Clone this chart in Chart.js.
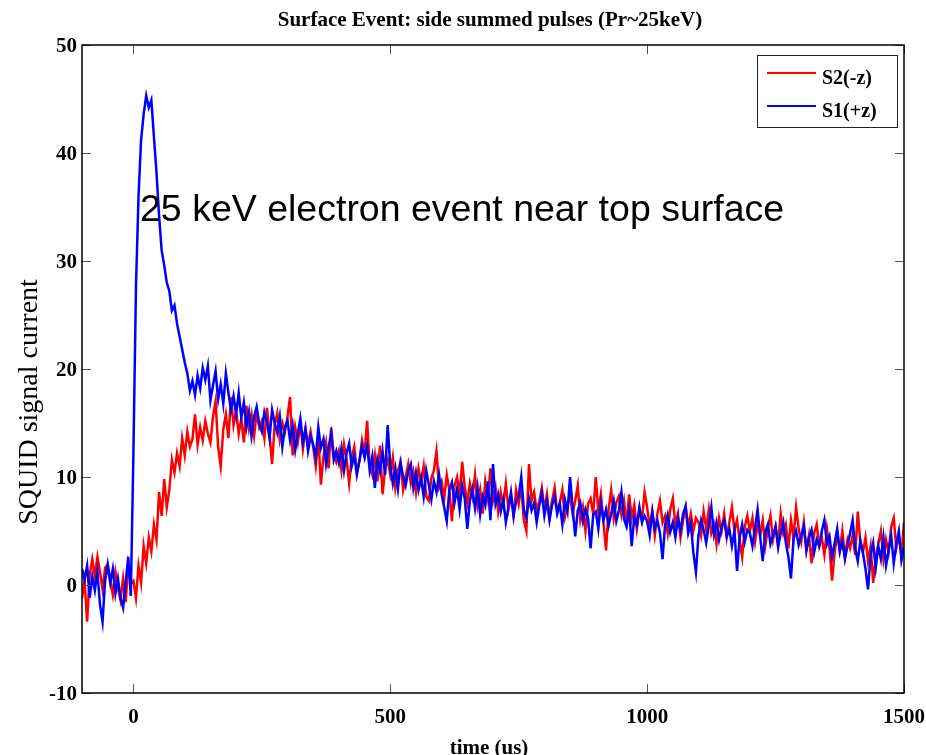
<!DOCTYPE html>
<html>
<head>
<meta charset="utf-8">
<title>Surface Event: side summed pulses</title>
<script src="https://cdn.jsdelivr.net/npm/chart.js@4/dist/chart.umd.min.js"></script>
<style>
  html, body { margin: 0; padding: 0; background: #fff; }
  #wrap { width: 926px; height: 755px; }
</style>
</head>
<body>
<div id="wrap"><canvas id="c" width="926" height="755"></canvas></div>
<script>
// Sampling grid of the pulse records (us)
const T0 = -100;
const DT = 5;

// S1(+z) side summed pulse, one sample every 5 us from -100 us
const s1 = [
  1.5, 0.5, 1.8, -1.2, 0.8, -0.5, 1.2, -1.8, -3.4, 0.4,
  1.9, 0.2, 1.5, -0.8, 0.6, -1.2, -2.1, 0.3, 2.6, -1.0,
  12.0, 27.5, 36.0, 41.2, 43.6, 45.3, 44.2, 44.9, 41.5, 38.2,
  34.2, 31.0, 29.6, 28.0, 27.2, 25.4, 25.9, 24.2, 23.0, 21.8,
  20.6, 19.6, 18.0, 18.9, 17.6, 19.4, 18.2, 20.1, 19.0, 20.3,
  17.1, 18.5, 19.8, 17.2, 18.6, 16.8, 19.6, 17.8, 16.2, 17.5,
  15.8, 17.8, 15.5, 16.9, 14.6, 16.0, 13.8, 15.6, 16.5, 14.9,
  14.2, 16.0, 15.1, 13.6, 16.2, 15.0, 14.1, 15.6, 12.8, 14.6,
  15.2, 13.4, 14.8, 12.5, 14.0, 15.4, 13.2, 14.5, 12.4, 13.8,
  13.0, 11.8, 14.6, 12.7, 13.5, 11.2, 12.8, 14.0, 11.6, 12.4,
  11.3, 12.7, 10.6, 12.2, 13.1, 11.0, 12.0, 10.2, 11.5, 12.9,
  11.8, 12.9, 10.6, 11.9, 9.0, 11.6, 10.5, 12.4, 10.2, 14.8,
  11.0, 9.4, 10.8, 8.9, 11.3, 10.1, 9.2, 10.6, 11.2, 9.0,
  10.4, 8.8, 9.9, 8.2, 10.6, 9.3, 7.9, 9.6, 8.6, 10.2,
  8.4, 7.2, 5.9, 8.8, 9.5, 7.6, 8.9, 7.0, 9.2, 8.0,
  5.2, 7.8, 8.9, 7.1, 9.0, 6.5, 8.2, 7.4, 9.6, 6.0,
  11.2, 7.5, 8.4, 6.8, 7.9, 5.8, 7.2, 8.6, 6.4, 7.8,
  8.2, 10.0, 7.0, 6.2, 8.0, 6.9, 7.6, 5.8, 7.3, 8.5,
  6.4, 7.8, 6.0, 7.4, 8.2, 6.6, 7.5, 5.6, 7.9, 6.8,
  10.0, 7.2, 4.5, 6.9, 7.6, 5.9, 7.0, 6.2, 3.4, 6.5,
  6.8, 5.2, 7.6, 6.0, 7.0, 5.5, 6.6, 7.8, 5.9, 6.9,
  8.6, 6.1, 5.4, 7.0, 3.6, 6.3, 5.5, 7.2, 5.8, 6.4,
  5.9, 4.6, 6.8, 5.2, 6.0, 4.8, 2.4, 5.6, 6.5, 4.9,
  5.8, 4.4, 6.2, 5.0, 6.6, 7.3, 4.8, 5.7, 3.0, 1.2,
  4.6, 6.0, 5.1, 3.9, 5.5, 7.2, 4.7, 5.8, 4.2, 5.4,
  6.0, 4.5, 5.2, 3.6, 5.0, 1.3, 4.4, 5.6, 4.0, 5.1,
  4.8, 3.6, 5.3, 7.0, 4.5, 2.2, 4.9, 5.6, 3.8, 4.6,
  5.4, 3.5, 4.8, 5.8, 3.9, 2.6, 0.6, 4.3, 5.0, 3.7,
  4.6, 5.5, 3.2, 4.4, 5.1, 3.0, 4.2, 3.6, 5.0, 6.0,
  3.8, 4.5, 2.6, 3.9, 5.2, 3.1, 4.0, 2.4, 3.6, 4.8,
  6.0, 3.4, 2.2, 4.1, 3.0, 1.5, -0.4, 2.8, 3.9, 1.6,
  3.6, 2.4, 4.4, 1.8, 3.2, 4.6, 2.0, 3.8, 5.0, 2.3,
  3.5
];

// S2(-z) side summed pulse, same sampling
const s2 = [
  -1.2, 0.4, -3.4, 1.0, 2.4, 0.8, 2.6, 1.2, -0.4, 1.6,
  1.9, 0.5, -0.9, 1.2, -0.3, -1.4, 0.6, -1.6, 1.8, 0.2,
  0.4, -1.2, 1.8, 0.2, 3.6, 2.0, 4.4, 3.1, 5.6, 4.2,
  8.6, 6.4, 9.8, 7.2, 8.8, 11.6, 10.4, 12.2, 11.0, 13.6,
  12.0, 14.2, 12.8, 13.5, 15.8, 13.0, 14.6, 13.4, 15.2, 14.0,
  13.2, 15.6, 17.0, 12.8, 11.0, 14.4, 15.8, 13.6, 17.4, 14.8,
  16.2, 14.0, 15.4, 13.2, 16.6, 14.5, 15.8, 13.8, 16.0, 14.6,
  15.2, 13.6, 16.4, 14.0, 11.2, 14.8, 15.9, 13.5, 15.0, 14.2,
  15.6, 17.4, 12.0, 14.6, 13.2, 15.0, 12.6, 14.4, 13.0, 14.2,
  12.8, 11.0, 13.6, 9.3, 11.9, 13.2, 10.8, 14.6, 12.1, 11.4,
  12.4, 10.6, 13.0, 11.6, 9.4, 11.8, 12.8, 10.4, 11.5, 13.4,
  12.2, 15.2, 11.0, 10.2, 12.0, 9.6, 12.9, 8.4, 10.8, 11.6,
  10.2, 11.8, 9.0, 10.6, 11.4, 8.8, 10.0, 11.2, 9.4, 10.5,
  8.6, 10.8, 9.5, 11.0, 8.2, 7.8, 9.9, 10.6, 12.4, 9.0,
  9.6, 8.0, 10.2, 8.8, 5.9, 9.2, 10.0, 8.4, 11.4, 9.1,
  7.6, 9.4, 8.2, 10.2, 7.4, 8.8, 6.6, 9.6, 8.0, 10.8,
  7.8, 9.0, 6.8, 8.6, 7.4, 9.4, 7.0, 8.2, 6.4, 8.8,
  7.5, 9.2, 6.0, 5.0, 11.2, 7.8, 8.6, 6.9, 7.7, 9.0,
  7.0, 8.4, 6.2, 7.8, 9.0, 6.8, 7.6, 8.8, 6.3, 7.4,
  8.2, 6.6, 7.8, 9.2, 6.0, 7.2, 5.0, 7.5, 8.0, 6.6,
  10.0, 6.8, 8.4, 5.8, 3.2, 7.0, 8.8, 6.2, 7.6, 8.2,
  6.5, 7.8, 5.6, 8.4, 6.2, 7.4, 5.2, 7.0, 6.0, 8.6,
  7.2, 5.4, 6.8, 4.6, 6.6, 7.8, 5.8, 6.4, 4.8, 7.0,
  8.0, 5.6, 6.6, 4.4, 6.0, 7.2, 5.4, 6.6, 5.0, 6.2,
  5.8, 4.6, 6.8, 5.2, 7.0, 4.8, 5.6, 3.8, 6.2, 5.0,
  6.6, 4.4, 5.8, 7.2, 5.0, 6.0, 4.2, 2.6, 5.4, 6.4,
  5.0, 6.2, 4.0, 5.6, 4.6, 6.0, 3.6, 5.2, 6.4, 4.2,
  5.4, 3.8, 6.6, 4.8, 5.6, 3.4, 6.0, 4.4, 7.2, 5.2,
  4.0, 5.8, 3.2, 4.6, 2.0, 4.8, 5.6, 3.6, 4.4, 2.8,
  5.2, 3.4, 0.4, 3.0, 4.8, 3.2, 5.0, 2.6, 4.2, 3.4,
  4.6, 2.8, 6.8, 4.0, 3.0, 4.4, 2.2, 3.6, 0.2, 2.6,
  3.8, 5.0, 2.4, 4.2, 3.0, 5.4, 6.2, 3.4, 4.6, 2.8,
  5.8
];

const xTicks = [0, 500, 1000, 1500];
const yTicks = [-10, 0, 10, 20, 30, 40, 50];

const titleText = 'Surface Event: side summed pulses (Pr~25keV)';
const xTitle = 'time (us)';
const yTitle = 'SQUID signal current';
const noteText = '25 keV electron event near top surface';

const toPoints = arr => arr.map((v, i) => ({ x: T0 + i * DT, y: v }));

const SERIF = '"Liberation Serif", "Times New Roman", serif';
const SANS = '"Liberation Sans", Arial, sans-serif';

// Box frame, inward ticks, titles, note and legend
const decor = {
  id: 'decor',
  afterDatasetsDraw(chart) {
    const ctx = chart.ctx;
    const { left, right, top, bottom } = chart.chartArea;
    const xs = chart.scales.x, ys = chart.scales.y;
    ctx.save();

    // inward ticks
    ctx.strokeStyle = '#555';
    ctx.lineWidth = 1;
    ctx.beginPath();
    xs.ticks.forEach(t => {
      const px = Math.round(xs.getPixelForValue(t.value)) + 0.5;
      ctx.moveTo(px, bottom); ctx.lineTo(px, bottom - 9);
      ctx.moveTo(px, top); ctx.lineTo(px, top + 9);
    });
    ys.ticks.forEach(t => {
      const py = Math.round(ys.getPixelForValue(t.value)) + 0.5;
      ctx.moveTo(left, py); ctx.lineTo(left + 9, py);
      ctx.moveTo(right, py); ctx.lineTo(right - 9, py);
    });
    ctx.stroke();

    // frame
    ctx.strokeStyle = '#000';
    ctx.lineWidth = 1.5;
    ctx.strokeRect(left, top, right - left, bottom - top);

    // note text
    ctx.fillStyle = '#000';
    ctx.font = '37.5px ' + SANS;
    ctx.textAlign = 'left';
    ctx.textBaseline = 'alphabetic';
    ctx.fillText(noteText, 140, 221);

    // legend
    ctx.fillStyle = '#fff';
    ctx.fillRect(757, 55, 140, 72);
    ctx.strokeStyle = '#222';
    ctx.lineWidth = 1;
    ctx.strokeRect(757.5, 55.5, 140, 72);
    ctx.font = 'bold 20px ' + SERIF;
    const rows = [{ ds: chart.data.datasets[0], ly: 73, ty: 84 },
                  { ds: chart.data.datasets[1], ly: 106, ty: 117 }];
    rows.forEach(r => {
      ctx.strokeStyle = r.ds.borderColor;
      ctx.lineWidth = 2;
      ctx.beginPath();
      ctx.moveTo(767, r.ly); ctx.lineTo(816, r.ly);
      ctx.stroke();
      ctx.fillStyle = '#000';
      ctx.fillText(r.ds.label, 822, r.ty);
    });
    ctx.restore();
  },
  afterDraw(chart) {
    const ctx = chart.ctx;
    ctx.save();
    ctx.fillStyle = '#000';
    ctx.textBaseline = 'alphabetic';
    ctx.textAlign = 'center';
    ctx.font = 'bold 21px ' + SERIF;
    ctx.fillText(titleText, 490, 26);
    ctx.fillText(xTitle, 489, 754);
    ctx.translate(37, 402);
    ctx.rotate(-Math.PI / 2);
    ctx.font = '28px ' + SERIF;
    ctx.fillText(yTitle, 0, 0);
    ctx.restore();
  }
};

new Chart(document.getElementById('c'), {
  type: 'line',
  data: {
    datasets: [
      { label: 'S2(-z)', data: toPoints(s2), borderColor: '#ff0000', borderWidth: 2.5,
        pointRadius: 0, tension: 0, fill: false, order: 1 },
      { label: 'S1(+z)', data: toPoints(s1), borderColor: '#0000ff', borderWidth: 2.5,
        pointRadius: 0, tension: 0, fill: false, order: 0 }
    ]
  },
  options: {
    responsive: false,
    animation: false,
    devicePixelRatio: 1,
    layout: { padding: { top: 45, right: 22, left: 0, bottom: 0 } },
    plugins: { legend: { display: false }, tooltip: { enabled: false }, title: { display: false } },
    scales: {
      x: {
        type: 'linear', min: -100, max: 1500,
        afterBuildTicks: s => { s.ticks = xTicks.map(v => ({ value: v })); },
        afterFit: s => { s.height = 62; s.paddingLeft = 0; s.paddingRight = 0; },
        grid: { display: false, drawTicks: false }, border: { display: false },
        ticks: { color: '#000', padding: 12, maxRotation: 0,
                 callback: v => String(v),
                 font: { family: SERIF, size: 21, weight: 'bold' } }
      },
      y: {
        type: 'linear', min: -10, max: 50,
        afterBuildTicks: s => { s.ticks = yTicks.map(v => ({ value: v })); },
        afterFit: s => { s.width = 82; s.paddingTop = 0; s.paddingBottom = 0; },
        grid: { display: false, drawTicks: false }, border: { display: false },
        ticks: { color: '#000', padding: 5, labelOffset: 2,
                 callback: v => String(v),
                 font: { family: SERIF, size: 21, weight: 'bold' } }
      }
    }
  },
  plugins: [decor]
});
</script>
</body>
</html>
